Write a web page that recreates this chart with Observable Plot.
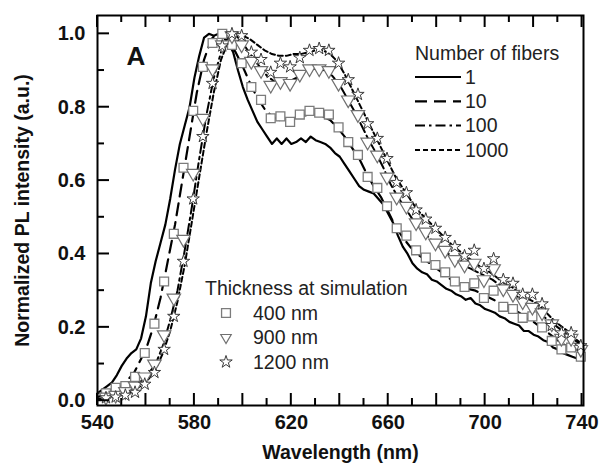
<!DOCTYPE html>
<html><head><meta charset="utf-8">
<script src="https://cdn.jsdelivr.net/npm/d3@7"></script>
<script src="https://cdn.jsdelivr.net/npm/@observablehq/plot@0.6"></script>
<style>
body{margin:0;background:#fff;}
#wrap{position:relative;width:606px;height:475px;}
#legend{position:absolute;left:0;top:0;pointer-events:none;}
</style></head><body><div id="wrap"></div>
<script>
// ---------- data ----------
const fiberNames = ["1", "10", "100", "1000"];
const thickNames = ["400 nm", "900 nm", "1200 nm"];
const xLabelTicks = [540, 580, 620, 660, 700, 740];
const xMajorTicks = [540, 560, 580, 600, 620, 640, 660, 680, 700, 720, 740];
const xMinorTicks = [550, 570, 590, 610, 630, 650, 670, 690, 710, 730];
const yLabelTicks = [0, 0.2, 0.4, 0.6, 0.8, 1.0];
const yMinorTicks = [0.1, 0.3, 0.5, 0.7, 0.9];

const wl1 = [540,542,544,546,548,550,552,554,556,558,560,562,564,566,568,570,572,574,576,578,580,582,584,586,588,590,592,594,596,598,600,602,604,606,608,610,612,614,616,618,620,622,624,626,628,630,632,634,636,638,640,642,644,646,648,650,652,654,656,658,660,662,664,666,668,670,672,674,676,678,680,682,684,686,688,690,692,694,696,698,700,702,704,706,708,710,712,714,716,718,720,722,724,726,728,730,732,734,736,738,740];
const val1 = [0.02,0.03,0.04,0.05,0.07,0.095,0.115,0.13,0.14,0.17,0.23,0.32,0.38,0.43,0.48,0.55,0.63,0.70,0.75,0.80,0.88,0.94,0.99,1.0,0.995,1.0,0.99,0.975,0.95,0.90,0.855,0.82,0.79,0.76,0.74,0.72,0.70,0.715,0.70,0.715,0.70,0.705,0.715,0.705,0.72,0.71,0.705,0.70,0.69,0.675,0.665,0.645,0.625,0.605,0.585,0.575,0.57,0.565,0.55,0.535,0.51,0.485,0.45,0.42,0.40,0.375,0.36,0.35,0.345,0.33,0.325,0.315,0.305,0.30,0.29,0.285,0.275,0.28,0.265,0.26,0.25,0.245,0.24,0.23,0.225,0.215,0.21,0.205,0.19,0.19,0.18,0.175,0.165,0.16,0.145,0.14,0.13,0.125,0.12,0.115,0.11];

const wl10 = [540,545,550,555,560,563,566,569,572,575,578,581,584,587,589,591,594,597,600,603,606,609,612,615,618,621,624,627,630,633,636,639,642,645,648,651,654,657,660,663,666,669,672,675,678,681,684,687,690,693,696,699,702,705,708,711,714,717,720,723,726,729,732,735,738,740];
const val10 = [0.01,0.02,0.04,0.075,0.14,0.20,0.28,0.38,0.48,0.60,0.72,0.84,0.93,0.985,1.0,0.995,0.98,0.95,0.91,0.865,0.825,0.795,0.775,0.765,0.765,0.77,0.775,0.78,0.78,0.775,0.765,0.745,0.72,0.69,0.66,0.62,0.585,0.555,0.515,0.475,0.445,0.42,0.40,0.385,0.37,0.355,0.34,0.325,0.315,0.305,0.30,0.29,0.28,0.27,0.26,0.25,0.24,0.225,0.215,0.20,0.185,0.17,0.155,0.145,0.13,0.125];

const wl100 = [540,545,550,555,560,564,567,570,573,576,579,582,585,588,591,594,596,598,601,604,607,610,613,616,619,622,625,628,631,634,637,640,643,646,649,652,655,658,661,664,667,670,673,676,679,682,685,688,691,694,697,700,703,706,709,712,715,718,721,724,727,730,733,736,739,740];
const val100 = [0.005,0.01,0.02,0.035,0.065,0.10,0.15,0.22,0.30,0.41,0.53,0.66,0.78,0.88,0.95,0.99,1.0,0.99,0.965,0.935,0.91,0.885,0.87,0.87,0.87,0.88,0.895,0.905,0.905,0.90,0.885,0.86,0.825,0.79,0.75,0.71,0.675,0.635,0.59,0.555,0.525,0.495,0.47,0.45,0.43,0.415,0.40,0.385,0.37,0.36,0.35,0.34,0.33,0.315,0.30,0.29,0.275,0.26,0.245,0.23,0.215,0.20,0.185,0.17,0.155,0.15];

const wl1000 = [540,545,550,555,560,564,567,570,573,576,579,582,585,588,591,594,597,600,603,606,609,612,615,618,621,624,627,630,633,636,639,642,645,648,651,654,657,660,663,666,669,672,675,678,681,684,687,690,693,696,699,702,705,708,711,714,717,720,723,726,729,732,735,738,740];
const val1000 = [0.003,0.008,0.015,0.028,0.05,0.085,0.13,0.19,0.27,0.37,0.49,0.61,0.73,0.84,0.93,0.98,1.0,0.995,0.985,0.97,0.955,0.945,0.94,0.94,0.945,0.945,0.95,0.955,0.955,0.945,0.925,0.89,0.85,0.81,0.77,0.73,0.69,0.65,0.61,0.58,0.55,0.52,0.50,0.48,0.46,0.44,0.42,0.405,0.39,0.375,0.36,0.35,0.335,0.32,0.31,0.295,0.28,0.27,0.255,0.235,0.215,0.20,0.185,0.165,0.155];

const markerWl = [543.5,547.5,551.5,555.5,559.5,563.5,567.5,571.5,575.5,579.5,583.5,587.5,591.5,595.5,599.5,603.5,607.5,611.5,615.5,619.5,623.5,627.5,631.5,635.5,639.5,643.5,647.5,651.5,655.5,659.5,663.5,667.5,671.5,675.5,679.5,683.5,687.5,691.5,695.5,699.5,703.5,707.5,711.5,715.5,719.5,723.5,727.5,731.5,735.5,739.5];
const sim400 = [0.02,0.035,0.04,0.065,0.13,0.21,0.325,0.455,0.635,0.79,0.91,0.975,1.0,0.97,0.92,0.855,0.82,0.77,0.775,0.76,0.78,0.79,0.785,0.78,0.745,0.705,0.67,0.61,0.58,0.53,0.47,0.45,0.41,0.39,0.37,0.35,0.325,0.31,0.32,0.28,0.30,0.256,0.25,0.226,0.23,0.20,0.163,0.14,0.145,0.12];
const sim900 = [0.01,0.015,0.025,0.04,0.065,0.10,0.18,0.28,0.44,0.62,0.77,0.905,0.97,0.995,0.97,0.925,0.90,0.86,0.87,0.865,0.89,0.905,0.905,0.90,0.865,0.82,0.78,0.705,0.67,0.61,0.555,0.53,0.485,0.46,0.43,0.41,0.385,0.37,0.375,0.33,0.36,0.305,0.29,0.27,0.255,0.24,0.21,0.17,0.17,0.14];
const sim1200 = [0.008,0.01,0.015,0.023,0.045,0.077,0.14,0.23,0.38,0.55,0.72,0.865,0.967,1.0,0.995,0.95,0.93,0.895,0.92,0.91,0.935,0.955,0.96,0.955,0.92,0.875,0.835,0.755,0.715,0.66,0.595,0.567,0.52,0.495,0.47,0.445,0.42,0.395,0.41,0.36,0.387,0.33,0.32,0.29,0.29,0.264,0.205,0.185,0.185,0.15];

// ---------- styles ----------
const FONT = "'Liberation Sans', Arial, Helvetica, sans-serif";
const lineStyles = [
  {dash: null, width: 2.2},
  {dash: "12,7", width: 2.2},
  {dash: "10,4,2.5,4", width: 2},
  {dash: "5,3", width: 2}
];
const markerStyles = [
  {symbol: "square", r: 5, stroke: "#7c7c7c", rotate: 0, sw: 1.3},
  {symbol: "triangle", r: 5, stroke: "#707070", rotate: 180, sw: 1.2},
  {symbol: "star", r: 3.9, stroke: "#3a3a3a", rotate: 0, sw: 1}
];

const lineSets = [[wl1, val1], [wl10, val10], [wl100, val100], [wl1000, val1000]];
const simSets = [sim400, sim900, sim1200];

const W = 606, H = 475, mL = 97, mR = 23, mT = 15, mB = 70;
const MAJ = 12, MIN = 7;

const lineMarks = lineSets.map(([wl, v], i) =>
  Plot.line(wl.map((w, j) => ({wl: w, v: v[j]})), {
    x: "wl", y: "v", stroke: "black", strokeWidth: lineStyles[i].width,
    strokeDasharray: lineStyles[i].dash, strokeLinejoin: "round"
  })
);
const dotMarks = simSets.map((vals, i) =>
  Plot.dot(markerWl.map((w, j) => ({wl: w, v: vals[j]})), {
    x: "wl", y: "v", symbol: markerStyles[i].symbol, r: markerStyles[i].r,
    stroke: markerStyles[i].stroke, fill: "white", strokeWidth: markerStyles[i].sw,
    rotate: markerStyles[i].rotate
  })
);

const chart = Plot.plot({
  width: W, height: H, marginLeft: mL, marginRight: mR, marginTop: mT, marginBottom: mB,
  style: {fontFamily: FONT, fontSize: "20px", fontWeight: "bold", color: "#111", background: "white"},
  x: {domain: [540, 740.6]},
  y: {domain: [-0.013, 1.05]},
  marks: [
    ...lineMarks,
    ...dotMarks,
    Plot.axisX(xLabelTicks, {anchor: "bottom", tickSize: 0, tickPadding: 9, label: null, fontSize: 20, tickFormat: d => String(d)}),
    Plot.axisY(yLabelTicks, {anchor: "left", tickSize: 0, tickPadding: 12, label: null, fontSize: 20, tickFormat: d3.format(".1f")}),
    Plot.frame({stroke: "black", strokeWidth: 2}),
    Plot.text(["Wavelength (nm)"], {frameAnchor: "bottom", dy: 53, fontSize: 19.5, fontWeight: "bold", fill: "#111"}),
    Plot.text(["Normalized PL intensity (a.u.)"], {frameAnchor: "left", textAnchor: "middle", dx: -75, rotate: -90, fontSize: 19.5, fontWeight: "bold", fill: "#111"}),
    Plot.text(["A"], {frameAnchor: "top-left", dx: 29, dy: 31, fontSize: 26, fontWeight: "bold", fill: "#111"})
  ]
});

const wrap = document.getElementById("wrap");
wrap.appendChild(chart);

// ---------- overlay: inward ticks (through Plot's own scales) and legends ----------
const svg = d3.select(wrap).append("svg").attr("id", "legend").attr("width", W).attr("height", H)
  .style("font-family", FONT).style("font-size", "19.5px");

const xS = chart.scale("x"), yS = chart.scale("y");
const xPix = d3.scaleLinear().domain(xS.domain).range(xS.range);
const yPix = d3.scaleLinear().domain(yS.domain).range(yS.range);
const frameBottom = H - mB, frameTop = mT, frameLeft = mL;
const tg = svg.append("g").attr("stroke", "#000").attr("stroke-width", 2);
[[xMajorTicks, MAJ], [xMinorTicks, MIN]].forEach(([ticks, len]) => {
  ticks.forEach(v => {
    const x = xPix(v);
    tg.append("line").attr("x1", x).attr("x2", x).attr("y1", frameBottom).attr("y2", frameBottom - len);
    tg.append("line").attr("x1", x).attr("x2", x).attr("y1", frameTop).attr("y2", frameTop + len);
  });
});
[[yLabelTicks, MAJ], [yMinorTicks, MIN]].forEach(([ticks, len]) => {
  ticks.forEach(v => {
    const y = yPix(v);
    tg.append("line").attr("x1", frameLeft).attr("x2", frameLeft + len).attr("y1", y).attr("y2", y);
  });
});

const g1 = svg.append("g");
g1.append("text").attr("x", 415).attr("y", 53).attr("dy", "0.35em").attr("fill", "#222").text("Number of fibers");
fiberNames.forEach((name, i) => {
  const y = 77 + i * 24.3;
  g1.append("line").attr("x1", 415).attr("x2", 461).attr("y1", y).attr("y2", y)
    .attr("stroke", "black").attr("stroke-width", lineStyles[i].width)
    .attr("stroke-dasharray", lineStyles[i].dash);
  g1.append("text").attr("x", 465).attr("y", y).attr("dy", "0.35em").attr("fill", "#222").text(name);
});

const symMap = {square: d3.symbolSquare, triangle: d3.symbolTriangle2, star: d3.symbolStar};
const g2 = svg.append("g");
g2.append("text").attr("x", 205).attr("y", 288).attr("dy", "0.35em").attr("fill", "#222").text("Thickness at simulation");
thickNames.forEach((name, i) => {
  const y = 313 + i * 24.5;
  const s = markerStyles[i];
  g2.append("path").attr("d", d3.symbol(symMap[s.symbol], Math.PI * s.r * s.r)())
    .attr("transform", `translate(226,${y}) rotate(${s.rotate})`)
    .attr("fill", "white").attr("stroke", s.stroke).attr("stroke-width", s.sw);
  g2.append("text").attr("x", 253).attr("y", y).attr("dy", "0.35em").attr("fill", "#222").text(name);
});
</script>
</body></html>
